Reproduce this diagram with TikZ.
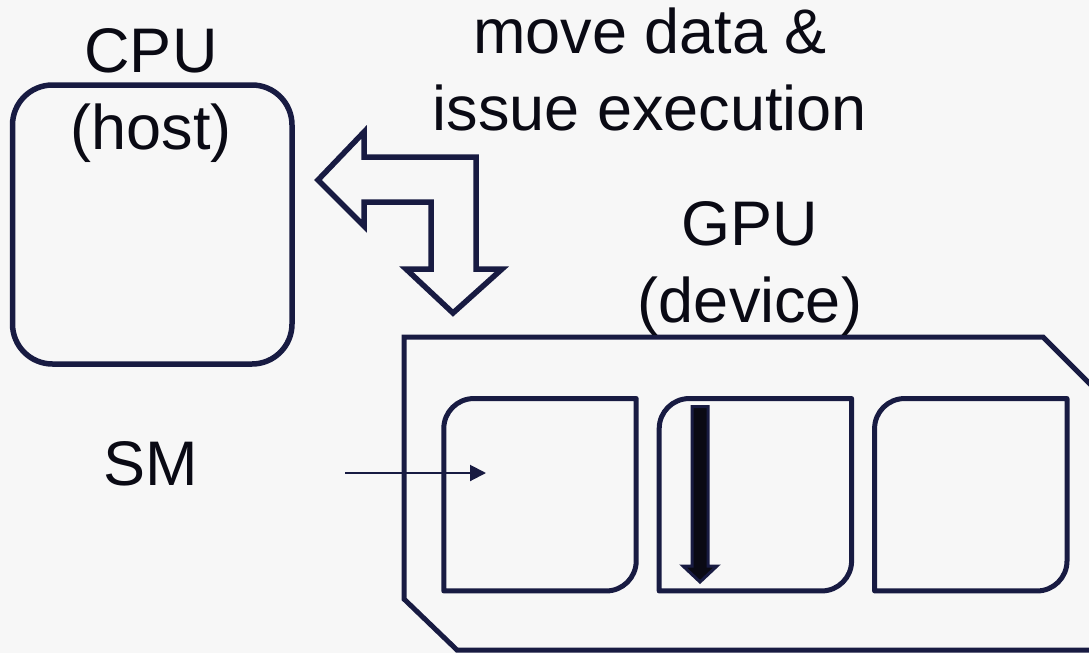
\documentclass[tikz,border=0pt]{standalone}
\usepackage{fontspec}
\setmainfont{Liberation Sans}
\usetikzlibrary{arrows.meta,positioning,calc}

\definecolor{navy}{HTML}{181B42}
\definecolor{ink}{HTML}{0A0A14}
\definecolor{paper}{HTML}{F7F7F7}

\begin{document}
\begin{tikzpicture}[
  x=1pt, y=-1pt,
  lbl/.style={text=ink, align=center, inner sep=0pt, font=\fontsize{63pt}{76.5pt}\selectfont},
  hostbox/.style={draw=navy, line width=5.5pt, rounded corners=40pt, minimum width=279.5pt, minimum height=279pt},
  smnode/.style={minimum width=192pt, minimum height=192pt, inner sep=0pt},
  smline/.style={draw=navy, line width=5pt, line join=round},
  outline/.style={draw=navy, line width=5pt, line join=miter},
  blockarr/.style={draw=navy, line width=5.5pt, line join=miter},
  bararr/.style={draw=navy, fill=ink, line width=3pt, line join=miter},
  ptr/.style={draw=navy, line width=2pt, -{Triangle[length=16pt, width=16pt]}}
]

% canvas
\fill[paper] (0,0) rectangle (1089,653);
\useasboundingbox (0,0) rectangle (1089,653);
\clip (0,0) rectangle (1089,653);

% CPU (host)
\node[hostbox] (cpu) at (152.25,224.5) {};
\node[lbl, anchor=base] (cpulbl) at (151,149) {CPU\\(host)};

% GPU (device) outline, cut off at the right edge
\draw[outline] (404,337) -- (1043,337) -- (1110,404) -- (1110,650) -- (457,650) -- (404,599) -- cycle;
\node[lbl, anchor=base] (gpulbl) at (750,322) {GPU\\(device)};

% SMs (round top-left and bottom-right corners only)
\node[smnode] (sm1) at (540,494.75) {};
\node[smnode, right=23pt of sm1] (sm2) {};
\node[smnode, right=23pt of sm2] (sm3) {};
\draw[smline] (sm1.south west) -- ([yshift=-30pt]sm1.north west) arc[start angle=180, end angle=90, radius=30pt] -- (sm1.north east) -- ([yshift=30pt]sm1.south east) arc[start angle=0, end angle=-90, radius=30pt] -- cycle;
\draw[smline] (sm2.south west) -- ([yshift=-30pt]sm2.north west) arc[start angle=180, end angle=90, radius=30pt] -- (sm2.north east) -- ([yshift=30pt]sm2.south east) arc[start angle=0, end angle=-90, radius=30pt] -- cycle;
\draw[smline] (sm3.south west) -- ([yshift=-30pt]sm3.north west) arc[start angle=180, end angle=90, radius=30pt] -- (sm3.north east) -- ([yshift=30pt]sm3.south east) arc[start angle=0, end angle=-90, radius=30pt] -- cycle;

% thick arrow down inside the middle SM
\draw[bararr] (692,406.5) -- (708,406.5) -- (708,566) -- (717,566) -- (700,582) -- (683,566) -- (692,566) -- cycle;

% SM label and pointer
\node[lbl, anchor=base] (smlbl) at (151,485) {SM};
\coordinate (smtail) at (345,473);
\coordinate (smtip) at (486,473);
\draw[ptr] (smtail) -- (smtip);

% two-way block arrow between host and device
\draw[blockarr] (318,180) -- (364,132) -- (364,157) -- (476,157) -- (476,269) -- (502,269) -- (453,313) -- (406,269) -- (431,269) -- (431,202) -- (364,202) -- (364,226) -- cycle;
\node[lbl, anchor=base] (movelbl) at (650,130) {move data \&\\issue execution};

\end{tikzpicture}
\end{document}
